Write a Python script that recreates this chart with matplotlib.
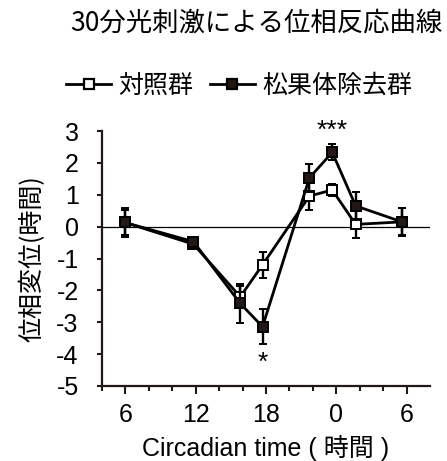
import matplotlib
matplotlib.use("Agg")
import matplotlib.pyplot as plt
from matplotlib.lines import Line2D

plt.rcParams['font.family'] = ['Liberation Sans', 'Noto Sans CJK JP']
plt.rcParams['axes.unicode_minus'] = False

# circadian time (hours, 24 = CT0 next day)
ct = [5.95, 11.8, 15.8, 17.7, 21.7, 23.65, 25.65, 29.6]
control = [0.13, -0.55, -2.2, -1.2, 0.96, 1.15, 0.07, 0.15]
control_err = [0.4, 0.1, 0.35, 0.4, 0.44, 0.2, 0.44, 0.42]
pinx = [0.13, -0.47, -2.41, -3.14, 1.53, 2.33, 0.65, 0.15]
pinx_err = [0.44, 0.12, 0.6, 0.55, 0.45, 0.25, 0.45, 0.44]

xticks = [6, 12, 18, 24, 30]
xticklabels = ["6", "12", "18", "0", "6"]
xminor = [4, 8, 10, 14, 16, 20, 22, 26, 28]
yticks = [-5, -4, -3, -2, -1, 0, 1, 2, 3]

dark = "#231815"

fig = plt.figure(figsize=(4.47, 4.61), dpi=100)
ax = fig.add_axes([0.2282, 0.1627, 0.734, 0.5531])

ax.axhline(0, color="black", lw=0.9, zorder=1)

ax.errorbar(ct, control, yerr=control_err, color="black", lw=2.0,
            marker="s", ms=7.6, mfc="white", mec="black", mew=1.4,
            ecolor="black", elinewidth=1.7, capsize=2.6, capthick=2.0, zorder=3)
ax.errorbar(ct, pinx, yerr=pinx_err, color="black", lw=2.0,
            marker="s", ms=7.6, mfc=dark, mec="black", mew=1.4,
            ecolor="black", elinewidth=1.7, capsize=2.6, capthick=2.0, zorder=4)

ax.text(23.65, 3.0, "***", ha="center", va="center", fontsize=19)
ax.text(17.7, -4.28, "*", ha="center", va="center", fontsize=19)

ax.set_xlim(4, 32)
ax.set_ylim(-5, 3)
ax.set_xticks(xticks)
ax.set_xticklabels(xticklabels)
ax.set_xticks(xminor, minor=True)
ax.set_yticks(yticks)

for side in ["top", "right"]:
    ax.spines[side].set_visible(False)
for side in ["left", "bottom"]:
    ax.spines[side].set_color(dark)
    ax.spines[side].set_linewidth(1.6)

ax.tick_params(axis="y", direction="out", length=3.8, width=1.5, color=dark,
               labelsize=18, pad=13)
ax.tick_params(axis="x", which="major", direction="out", length=6, width=1.5,
               color=dark, labelsize=18, pad=6)
ax.tick_params(axis="x", which="minor", direction="out", length=3.5, width=1.5,
               color=dark)

ax.set_xlabel("Circadian time ( 時間 )", fontsize=18, labelpad=6)
ax.set_ylabel("位相変位(時間)", fontsize=18, family=['Noto Sans CJK JP'], labelpad=8)

fig.text(0.573, 0.951, "30分光刺激による位相反応曲線", ha="center", va="center",
         fontsize=19, family=['Noto Sans CJK JP'])

h1 = Line2D([], [], color="black", lw=2.0, marker="s", ms=7, mfc="white", mec="black", mew=1.6)
h2 = Line2D([], [], color="black", lw=2.0, marker="s", ms=7, mfc=dark, mec="black", mew=1.6)
fig.legend([h1, h2], ["対照群", "松果体除去群"], loc="center left",
           bbox_to_anchor=(0.12, 0.814), ncol=2, frameon=False,
           prop={'family': ['Noto Sans CJK JP'], 'size': 18},
           handlelength=1.8, handletextpad=0.3, columnspacing=0.65, borderpad=0)

fig.savefig("out.png", dpi=100)
